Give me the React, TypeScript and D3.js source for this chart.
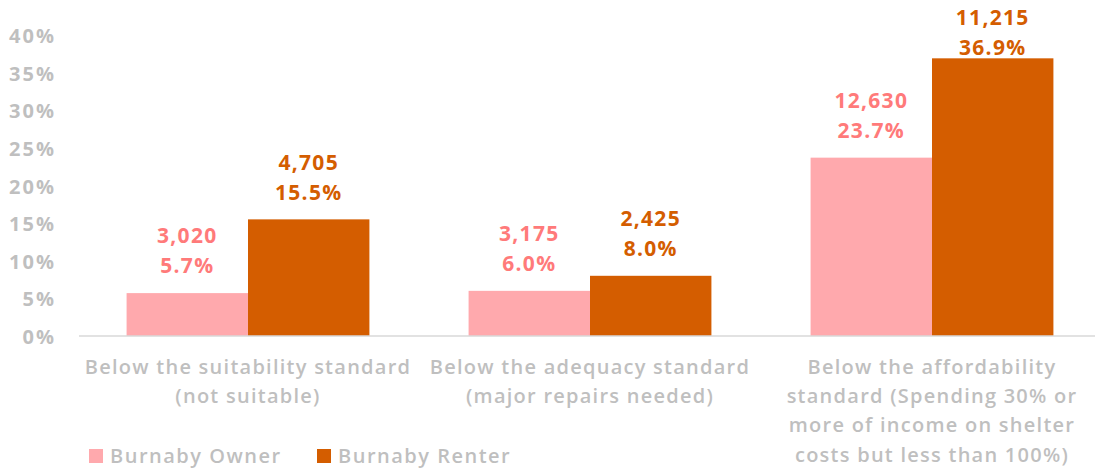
import React from "react";
import * as d3 from "d3";

const categories: string[][] = [
  ["Below the suitability standard", "(not suitable)"],
  ["Below the adequacy standard", "(major repairs needed)"],
  ["Below the affordability", "standard (Spending 30% or", "more of income on shelter", "costs but less than 100%)"],
];
const seriesNames = ["Burnaby Owner", "Burnaby Renter"];
const ownerPct = [5.7, 6.0, 23.7];
const renterPct = [15.5, 8.0, 36.9];
const ownerCount = ["3,020", "3,175", "12,630"];
const renterCount = ["4,705", "2,425", "11,215"];
const yTicks = [0, 5, 10, 15, 20, 25, 30, 35, 40];

const W = 1095;
const H = 468;
const FONT = "'Open Sans', Lato, sans-serif";
const GRAY = "#BFBFBF";
const PINK = "#FFA9AD";
const ORANGE = "#D45D00";
const PINK_TXT = "#FF7A7A";

export default function App() {
  const x = d3.scaleBand<number>().domain([0, 1, 2]).range([77, 1103]).paddingInner(0.29).paddingOuter(0.145);
  const y = d3.scaleLinear().domain([0, 40]).range([336, 35]);
  const bw = x.bandwidth() / 2;
  const series = [
    { vals: ownerPct, counts: ownerCount, fill: PINK, txt: PINK_TXT },
    { vals: renterPct, counts: renterCount, fill: ORANGE, txt: ORANGE },
  ];
  return (
    <svg width={W} height={H} style={{ position: "absolute", left: 0, top: 0, background: "#fff" }} fontFamily={FONT} fontWeight={700}>
      {yTicks.map((t) => (
        <text key={t} x={56} y={y(t) + 1} dy="0.35em" textAnchor="end" fill={GRAY} fontSize={20} letterSpacing={2}>
          {t}%
        </text>
      ))}
      {series.map((s, si) =>
        s.vals.map((v, i) => {
          const x0 = (x(i) as number) + si * bw;
          const top = y(v);
          const l1 = Math.max(top - 57, 18);
          return (
            <g key={`${si}-${i}`}>
              <rect x={x0} y={top} width={bw} height={y(0) - top} fill={s.fill} />
              <text x={x0 + bw / 2} y={l1} dy="0.35em" textAnchor="middle" fill={s.txt} fontSize={21} letterSpacing={1.3}>
                {s.counts[i]}
              </text>
              <text x={x0 + bw / 2} y={l1 + 30} dy="0.35em" textAnchor="middle" fill={s.txt} fontSize={21} letterSpacing={1.3}>
                {v.toFixed(1)}%
              </text>
            </g>
          );
        })
      )}
      <line x1={79} x2={1103} y1={y(0)} y2={y(0)} stroke="#D9D9D9" strokeWidth={1.5} />
      {categories.map((lines, i) => (
        <text key={i} textAnchor="middle" fill={GRAY} fontSize={20} fontWeight={600} letterSpacing={1.25}>
          {lines.map((ln, j) => (
            <tspan key={j} x={(x(i) as number) + x.bandwidth() / 2} y={367 + j * 29.2} dy="0.35em">
              {ln}
            </tspan>
          ))}
        </text>
      ))}
      {seriesNames.map((n, i) => {
        const lx = i === 0 ? 89 : 317;
        return (
          <g key={n}>
            <rect x={lx} y={449} width={14} height={14} fill={series[i].fill} />
            <text x={lx + 21} y={456} dy="0.35em" fill={GRAY} fontSize={20} fontWeight={600} letterSpacing={1.5}>
              {n}
            </text>
          </g>
        );
      })}
    </svg>
  );
}
